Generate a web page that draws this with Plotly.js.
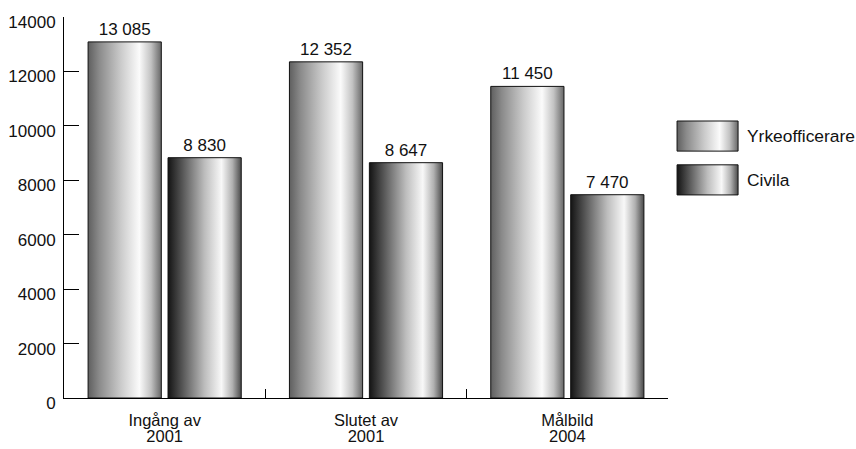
<!DOCTYPE html>
<html>
<head>
<meta charset="utf-8">
<script src="https://cdn.plot.ly/plotly-3.0.1.min.js"></script>
<style>
  html, body { margin: 0; padding: 0; background: #ffffff; }
  #chart { width: 856px; height: 449px; }
</style>
</head>
<body>
<div id="chart"></div>
<script>
// ---- Data ----
const categories = ['Ingång av<br>2001', 'Slutet av<br>2001', 'Målbild<br>2004'];
const seriesNames = ['Yrkeofficerare', 'Civila'];
const yrkeofficerare = [13085, 12352, 11450];
const civila = [8830, 8647, 7470];
const yTickValues = [0, 2000, 4000, 6000, 8000, 10000, 12000, 14000];

const FONT = '"Liberation Sans", Arial, sans-serif';

const baseTrace = {
  type: 'bar',
  x: categories,
  textposition: 'outside',
  texttemplate: '%{y:,}',
  textfont: { family: FONT, size: 17, color: '#111111' },
  cliponaxis: false,
  hoverinfo: 'skip',
  showlegend: false
};

const traces = [
  Object.assign({}, baseTrace, { name: seriesNames[0], y: yrkeofficerare,
    marker: { color: '#bbbbbb', line: { color: '#111111', width: 1 } } }),
  Object.assign({}, baseTrace, { name: seriesNames[1], y: civila,
    marker: { color: '#999999', line: { color: '#111111', width: 1 } } })
];

// legend (drawn as shapes + annotations for the large swatches)
const legendShapes = [
  { type: 'rect', xref: 'paper', yref: 'paper', x0: 1.015, x1: 1.116, y0: 0.648, y1: 0.727,
    fillcolor: '#bbbbbb', line: { color: '#111111', width: 1 } },
  { type: 'rect', xref: 'paper', yref: 'paper', x0: 1.015, x1: 1.116, y0: 0.533, y1: 0.612,
    fillcolor: '#999999', line: { color: '#111111', width: 1 } }
];
const legendAnnotations = seriesNames.map((n, i) => ({
  xref: 'paper', yref: 'paper', x: 1.127, y: [0.688, 0.572][i],
  xanchor: 'left', yanchor: 'middle', showarrow: false, text: n,
  font: { family: FONT, size: 17.4, color: '#111111' }
}));

const layout = {
  width: 856, height: 449,
  margin: { l: 64, r: 188, t: 17, b: 51, pad: 0 },
  paper_bgcolor: '#ffffff', plot_bgcolor: '#ffffff',
  separators: ', ',
  barmode: 'group',
  bargap: 0.206,
  bargroupgap: 0.084,
  showlegend: false,
  font: { family: FONT, color: '#111111' },
  xaxis: {
    type: 'category',
    showline: true, linecolor: '#000000', linewidth: 1,
    ticks: 'inside', tickson: 'boundaries', ticklen: 9, tickcolor: '#000000', tickwidth: 1,
    showgrid: false, zeroline: false,
    ticklabelstandoff: 7,
    tickfont: { family: FONT, size: 16.5, color: '#111111' },
    fixedrange: true
  },
  yaxis: {
    range: [0, 14000],
    tickvals: yTickValues,
    tickformat: 'd',
    showline: true, linecolor: '#000000', linewidth: 1,
    ticks: 'inside', ticklen: 15, tickcolor: '#000000', tickwidth: 1,
    showgrid: false, zeroline: false,
    ticklabelshift: 5,
    ticklabelstandoff: 4,
    tickfont: { family: FONT, size: 17, color: '#111111' },
    fixedrange: true
  },
  shapes: legendShapes,
  annotations: legendAnnotations
};

function addGradients(gd) {
  const svg = gd.querySelector('svg.main-svg');
  const NS = 'http://www.w3.org/2000/svg';
  let defs = document.createElementNS(NS, 'defs');
  svg.insertBefore(defs, svg.firstChild);
  const grads = {
    gradYrke: [[0, '#5f5f5f'], [0.15, '#8a8a8a'], [0.45, '#cbcbcb'], [0.70, '#fbfbfb'], [0.86, '#c2c2c2'], [1, '#676767']],
    gradCivila: [[0, '#141414'], [0.2, '#575757'], [0.5, '#bdbdbd'], [0.73, '#f8f8f8'], [0.88, '#b0b0b0'], [1, '#4a4a4a']]
  };
  Object.keys(grads).forEach(id => {
    const lg = document.createElementNS(NS, 'linearGradient');
    lg.setAttribute('id', id);
    lg.setAttribute('x1', '0'); lg.setAttribute('y1', '0');
    lg.setAttribute('x2', '1'); lg.setAttribute('y2', '0');
    grads[id].forEach(([o, c]) => {
      const s = document.createElementNS(NS, 'stop');
      s.setAttribute('offset', o);
      s.setAttribute('stop-color', c);
      lg.appendChild(s);
    });
    defs.appendChild(lg);
  });
  const ids = ['gradYrke', 'gradCivila'];
  gd.querySelectorAll('g.trace.bars').forEach((t, i) => {
    t.querySelectorAll('g.point path').forEach(p => { p.style.fill = 'url(#' + ids[i] + ')'; p.style.fillOpacity = 1; });
  });
  gd.querySelectorAll('.shapelayer path').forEach((p, i) => {
    if (i < 2) { p.style.fill = 'url(#' + ids[i] + ')'; p.style.fillOpacity = 1; }
  });
  // tighter line spacing for the two-line category labels
  gd.querySelectorAll('.xtick text tspan.line').forEach(ts => {
    if (ts.getAttribute('dy') === '1.3em') ts.setAttribute('dy', '0.97em');
  });
}

Plotly.newPlot('chart', traces, layout, { staticPlot: true, displayModeBar: false })
  .then(gd => addGradients(gd));
</script>
</body>
</html>
